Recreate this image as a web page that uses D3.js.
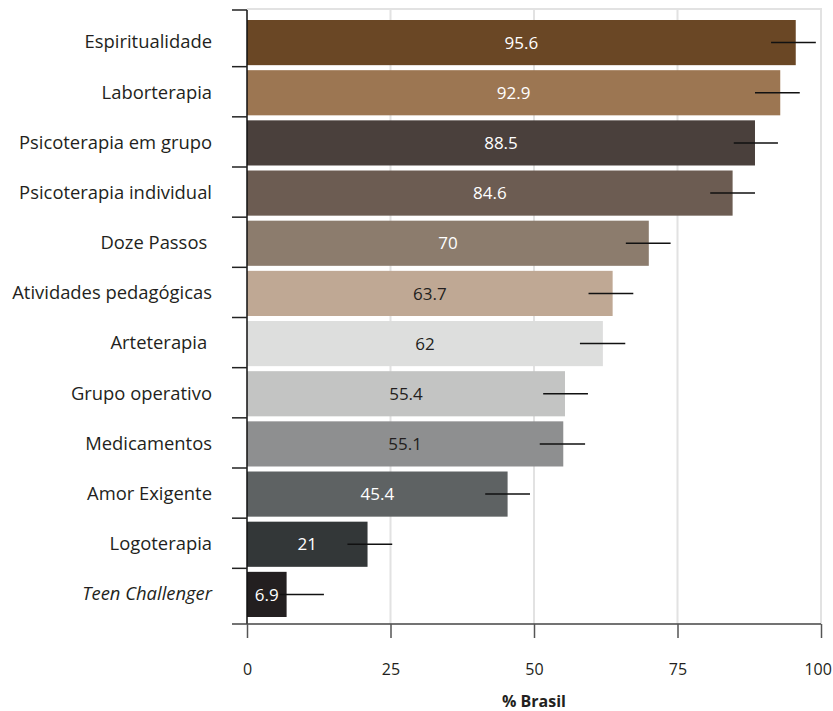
<!DOCTYPE html>
<meta charset="utf-8">
<style>

body {
  margin: 0;
  background: #fff;
}

.chart text {
  font-family: "Open Sans", sans-serif;
  font-size: 17px;
  fill: #231f20;
}

.ylabels text {
  white-space: pre;
}

.grid line {
  stroke: #e2e2e2;
  stroke-width: 2;
}

</style>
<svg class="chart"></svg>
<script src="https://d3js.org/d3.v7.min.js"></script>
<script>

var categories = ["Espiritualidade", "Laborterapia", "Psicoterapia em grupo", "Psicoterapia individual",
    "Doze Passos ", "Atividades pedagógicas", "Arteterapia ", "Grupo operativo",
    "Medicamentos", "Amor Exigente", "Logoterapia", "Teen Challenger"];

var values = [95.6, 92.9, 88.5, 84.6, 70, 63.7, 62, 55.4, 55.1, 45.4, 21, 6.9];

// confidence interval ends
var ciLow  = [91.3, 88.5, 84.8, 80.7, 66.0, 59.5, 58.0, 51.6, 51.0, 41.5, 17.5, 5.7];
var ciHigh = [99.1, 96.3, 92.5, 88.5, 73.8, 67.3, 65.9, 59.4, 58.9, 49.3, 25.3, 13.4];

var barColors = ["#6a4725", "#9c7652", "#4a403c", "#6c5c52", "#8c7c6d", "#bfa894",
    "#dddedd", "#c3c4c3", "#8e8f90", "#5e6263", "#333738", "#231f20"];

var labelColors = ["#fff", "#fff", "#fff", "#fff", "#fff", "#231f20",
    "#231f20", "#231f20", "#231f20", "#fff", "#fff", "#fff"];

var xTicks = [0, 25, 50, 75, 100];

var width = 833,
    height = 711,
    plotTop = 9,
    axisY = 624;

var x = d3.scaleLinear()
    .domain([0, 100])
    .range([247, 821]);

var y = d3.scaleBand()
    .domain(categories)
    .range([17.5, 619.5])
    .paddingInner(0.1)
    .paddingOuter(0.05);

var chart = d3.select(".chart")
    .attr("width", width)
    .attr("height", height);

// grid + frame
var grid = chart.append("g").attr("class", "grid");

grid.selectAll("line.v")
    .data(xTicks.slice(1))
  .enter().append("line")
    .attr("class", "v")
    .attr("x1", function(d) { return x(d); })
    .attr("x2", function(d) { return x(d); })
    .attr("y1", plotTop)
    .attr("y2", axisY);

grid.append("line")
    .attr("x1", x(0))
    .attr("x2", x(100) + 1)
    .attr("y1", plotTop)
    .attr("y2", plotTop);

// bars
var bar = chart.selectAll("g.bar")
    .data(values)
  .enter().append("g")
    .attr("class", "bar")
    .attr("transform", function(d, i) { return "translate(0," + y(categories[i]) + ")"; });

bar.append("rect")
    .attr("x", x(0))
    .attr("width", function(d) { return x(d) - x(0); })
    .attr("height", y.bandwidth())
    .style("fill", function(d, i) { return barColors[i]; });

bar.append("line")
    .attr("x1", function(d, i) { return x(ciLow[i]); })
    .attr("x2", function(d, i) { return x(ciHigh[i]); })
    .attr("y1", y.bandwidth() / 2)
    .attr("y2", y.bandwidth() / 2)
    .style("stroke", "#111")
    .style("stroke-width", 1.5);

bar.append("text")
    .attr("x", function(d) { return (x(0) + x(d)) / 2; })
    .attr("y", y.bandwidth() / 2)
    .attr("dy", ".36em")
    .style("text-anchor", "middle")
    .style("fill", function(d, i) { return labelColors[i]; })
    .text(function(d) { return d; });

// y axis: line, boundary ticks, category labels
chart.append("line")
    .attr("x1", x(0))
    .attr("x2", x(0))
    .attr("y1", plotTop + 1)
    .attr("y2", axisY)
    .style("stroke", "#111")
    .style("stroke-width", 1.5);

var gap = y.step() - y.bandwidth();
var bounds = [plotTop + 1].concat(categories.slice(1).map(function(c) { return y(c) - gap / 2 - 1; }));

chart.selectAll("line.ytick")
    .data(bounds)
  .enter().append("line")
    .attr("class", "ytick")
    .attr("x1", x(0) - 15)
    .attr("x2", x(0))
    .attr("y1", function(d) { return d; })
    .attr("y2", function(d) { return d; })
    .style("stroke", "#222")
    .style("stroke-width", 1.5);

chart.append("g")
    .attr("class", "ylabels")
    .attr("transform", "translate(" + x(0) + ",0)")
    .call(d3.axisLeft(y).tickSize(0).tickPadding(35))
    .call(function(g) { g.select(".domain").remove(); })
    .selectAll("text")
    .style("font-size", "18.4px")
    .style("font-family", "'Open Sans', sans-serif")
    .style("fill", "#231f20")
    .style("font-style", function(d) { return d == "Teen Challenger" ? "italic" : "normal"; });

// x axis
chart.append("line")
    .attr("x1", x(0) - 15)
    .attr("x2", x(100))
    .attr("y1", axisY)
    .attr("y2", axisY)
    .style("stroke", "#444")
    .style("stroke-width", 1.5);

chart.append("g")
    .attr("class", "x axis")
    .attr("transform", "translate(0," + axisY + ")")
    .call(d3.axisBottom(x).tickValues(xTicks).tickSize(14).tickPadding(26))
    .call(function(g) { g.select(".domain").remove(); })
    .call(function(g) {
      g.selectAll("line").style("stroke", "#555").style("stroke-width", 1.5);
      g.selectAll("text")
        .style("font-size", "16px")
        .style("font-family", "'Open Sans', sans-serif")
        .style("fill", "#231f20");
      // keep the last label inside the page
      g.selectAll("text")
        .filter(function(d) { return d == 100; })
        .style("text-anchor", "end")
        .attr("dx", "0.65em");
    });

chart.append("text")
    .attr("x", x(50))
    .attr("y", 707)
    .style("text-anchor", "middle")
    .style("font-weight", "bold")
    .style("font-size", "16px")
    .text("% Brasil");

</script>
